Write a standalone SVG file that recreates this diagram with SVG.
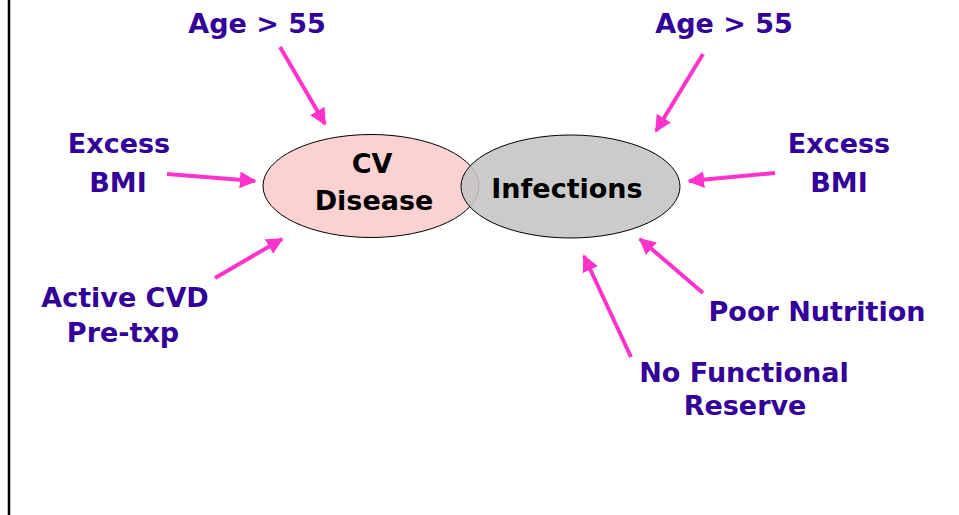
<svg xmlns="http://www.w3.org/2000/svg" width="959" height="515" viewBox="0 0 959 515">
<style>
.lbl{font-family:"Comic Sans MS","DejaVu Sans",sans-serif;font-weight:bold;font-size:27px;fill:#330099;text-anchor:middle}
.nlbl{font-family:"Comic Sans MS","DejaVu Sans",sans-serif;font-weight:bold;font-size:27px;fill:#000;text-anchor:middle}
.arr{stroke:#ff33cc;stroke-width:4;fill:none;marker-end:url(#ah)}
</style>
<defs>
<marker id="ah" viewBox="0 0 10 10" refX="9" refY="5" markerWidth="4.2" markerHeight="4.2" orient="auto" markerUnits="strokeWidth">
<path d="M0,0 L10,5 L0,10 Z" fill="#ff33cc"/>
</marker>
</defs>
<rect width="959" height="515" fill="#fff"/>
<line x1="9" y1="0" x2="9" y2="515" stroke="#000" stroke-width="2.5"/>
<g id="cv">
<ellipse cx="371" cy="186" rx="108" ry="51.5" fill="#fad2d2" stroke="#000" stroke-width="1"/>
<text class="nlbl" x="372" y="173">CV</text>
<text class="nlbl" x="374" y="210">Disease</text>
</g>
<g id="infections">
<ellipse cx="570.5" cy="186.5" rx="109.5" ry="51.5" fill="#c4c4c4" fill-opacity="0.88" stroke="#000" stroke-width="1"/>
<text class="nlbl" x="567" y="198">Infections</text>
</g>
<g id="age-left"><text class="lbl" x="257" y="33">Age &gt; 55</text></g>
<g id="bmi-left"><text class="lbl" x="119" y="153">Excess</text><text class="lbl" x="118" y="192">BMI</text></g>
<g id="cvd"><text class="lbl" x="125" y="307">Active CVD</text><text class="lbl" x="123" y="342">Pre-txp</text></g>
<g id="age-right"><text class="lbl" x="724" y="33">Age &gt; 55</text></g>
<g id="bmi-right"><text class="lbl" x="839" y="153">Excess</text><text class="lbl" x="839" y="192">BMI</text></g>
<g id="nutrition"><text class="lbl" x="817" y="321">Poor Nutrition</text></g>
<g id="reserve"><text class="lbl" x="744" y="382">No Functional</text><text class="lbl" x="745" y="415">Reserve</text></g>
<g id="connectors">
<line class="arr" x1="280" y1="47" x2="325" y2="124"/>
<line class="arr" x1="167" y1="174" x2="255" y2="181"/>
<line class="arr" x1="215" y1="278" x2="282" y2="239"/>
<line class="arr" x1="703" y1="54" x2="656" y2="131"/>
<line class="arr" x1="775" y1="173" x2="689" y2="181"/>
<line class="arr" x1="703" y1="293" x2="640" y2="239"/>
<line class="arr" x1="631" y1="357" x2="584" y2="256"/>
</g>
</svg>
